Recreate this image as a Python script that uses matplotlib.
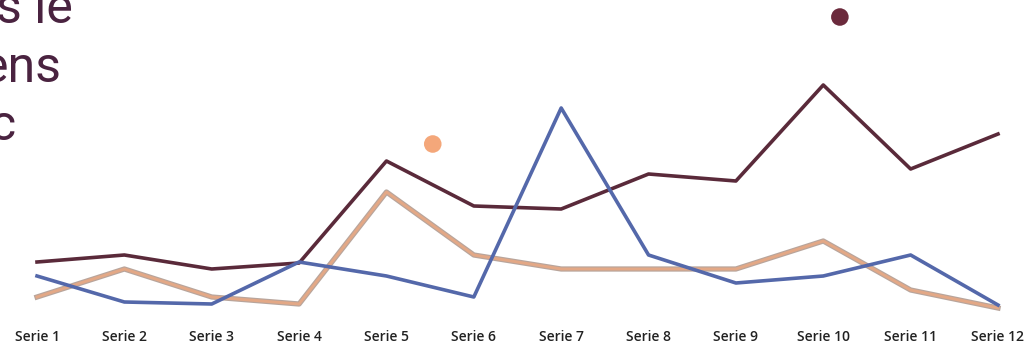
import matplotlib.pyplot as plt
import matplotlib.patheffects as pe

categories = ['Serie %d' % i for i in range(1, 13)]
maroon_vals = [5.3, 6.0, 4.6, 5.2, 15.4, 10.9, 10.6, 14.1, 13.4, 23.0, 14.6, 18.1]
blue_vals = [3.9, 1.3, 1.1, 5.3, 3.9, 1.8, 20.7, 6.0, 3.2, 3.9, 6.0, 1.0]
tan_vals = [1.8, 4.6, 1.8, 1.1, 12.3, 6.0, 4.6, 4.6, 4.6, 7.4, 2.5, 0.7]
# decorative dots (x in category units, y in value units)
dot_x = [5.53, 10.19]
dot_y = [17.1, 29.8]
dot_colors = ['#F4A77A', '#6B2A3C']
title_lines = ['s le', 'ens', 'c']

fig = plt.figure(figsize=(10.34, 3.46), dpi=100)
ax = fig.add_axes([0, 26 / 346, 1, 320 / 346])
x = list(range(1, 13))

ax.plot(x, maroon_vals, color='#5A2A3A', lw=2.6)
ax.plot(x, tan_vals, color='#E3A886', lw=2.1,
        path_effects=[pe.Stroke(linewidth=3.8, foreground='#B8A59C'), pe.Normal()])
ax.plot(x, blue_vals, color='#5468AA', lw=2.6)
ax.scatter(dot_x, dot_y, s=160, c=dot_colors, edgecolors='none', zorder=5)

ax.set_xlim(1 - 37 / 87.36, 12 + 36 / 87.36)
ax.set_ylim(-0.5, 31.5)
ax.set_xticks(x)
ax.set_xticklabels(categories, fontsize=10, fontweight='semibold', family='Open Sans', color='#222222')
ax.tick_params(axis='x', length=0, pad=7)
ax.set_yticks([])
for s in ax.spines.values():
    s.set_visible(False)

right_edges = [73, 62, 16]
baselines = [23, 82, 140]
for t, xr, yb in zip(title_lines, right_edges, baselines):
    fig.text(xr / 1034, 1 - yb / 346, t, ha='right', va='baseline',
             fontsize=36, family='Roboto', color='#4A2340')

fig.savefig('out.png', dpi=100)
